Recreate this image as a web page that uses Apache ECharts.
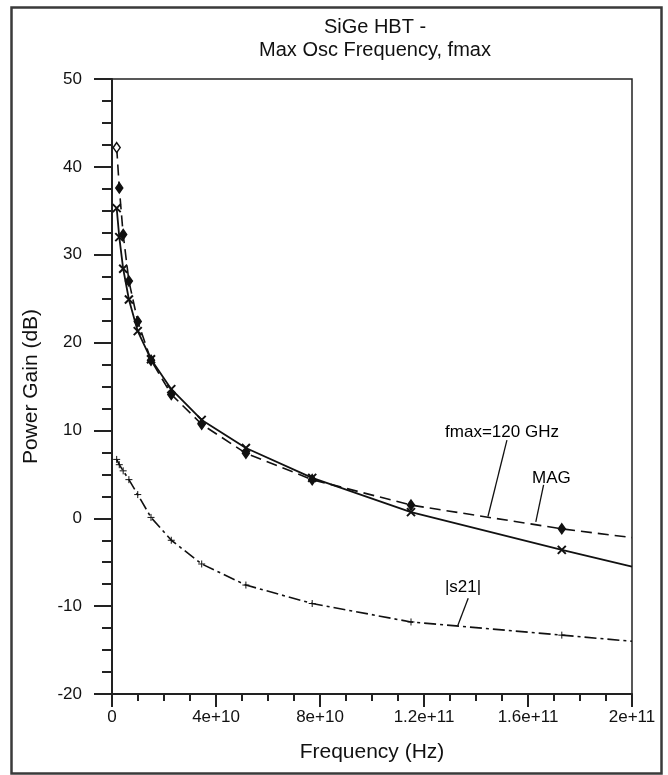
<!DOCTYPE html>
<html>
<head>
<meta charset="utf-8">
<script src="https://cdn.jsdelivr.net/npm/echarts@6/dist/echarts.min.js"></script>
<style>
html,body{margin:0;padding:0;background:#fff;}
#chart{width:668px;height:775px;}
</style>
</head>
<body>
<div id="chart"></div>
<script>
// Data
const freqHz = [1.8e9, 2.8e9, 4.3e9, 6.5e9, 9.9e9, 1.5e10, 2.28e10, 3.45e10, 5.15e10, 7.7e10, 1.15e11, 1.73e11, 2e11];
const magDb  = [42.2, 37.6, 32.3, 27.0, 22.4, 18.0, 14.1, 10.7, 7.4, 4.4, 1.5, -1.2, -2.2];
const gainDb = [35.3, 32.0, 28.4, 24.9, 21.3, 18.1, 14.7, 11.2, 8.0, 4.6, 0.7, -3.6, -5.5];
const s21Db  = [6.7, 6.1, 5.4, 4.4, 2.7, 0.1, -2.5, -5.2, -7.6, -9.7, -11.8, -13.3, -14.0];
const xTicks = [0, 4e10, 8e10, 1.2e11, 1.6e11, 2e11];
const yTicks = [-20, -10, 0, 10, 20, 30, 40, 50];

// Annotation anchors (data coordinates)
const annoTexts = [
  {name: 'fmax=120 GHz', at: [1.5e11, 9.8]},
  {name: 'MAG', at: [1.69e11, 4.6]},
  {name: '|s21|', at: [1.35e11, -7.9]}
];
const annoLeaders = [
  [[1.519e11, 8.9], [1.446e11, 0.2]],
  [[1.66e11, 3.8], [1.63e11, -0.4]],
  [[1.37e11, -9.1], [1.33e11, -12.2]]
];

const FONT = '"Liberation Sans", Arial, Helvetica, sans-serif';
const chart = echarts.init(document.getElementById('chart'), null, {renderer: 'canvas'});

function pairs(ys) {
  return freqHz.map((f, i) => {
    const item = {value: [f, ys[i]]};
    if (i === freqHz.length - 1) item.symbol = 'none';
    return item;
  });
}
const magData = pairs(magDb);
magData[0].itemStyle = {color: '#fff'};
const gainData = pairs(gainDb);
const s21Data = pairs(s21Db);

const xFmt = v => (v === 0 ? '0' : Number(v).toExponential().replace(/\.?0+e/, 'e'));

chart.setOption({
  animation: false,
  backgroundColor: '#fff',
  title: {
    text: 'SiGe HBT -\nMax Osc Frequency, fmax',
    left: 370, top: 11, textAlign: 'center',
    textStyle: {fontFamily: FONT, fontSize: 20, fontWeight: 'normal', color: '#111', lineHeight: 23}
  },
  graphic: [{
    type: 'rect', left: 9, top: 5, silent: true, z: -1,
    shape: {width: 650, height: 766},
    style: {fill: 'none', stroke: '#3a3a3a', lineWidth: 2.5}
  }],
  grid: {left: 112, right: 36, top: 79, bottom: 81, show: true, borderColor: '#222', borderWidth: 1.5, backgroundColor: 'transparent'},
  xAxis: {
    type: 'value', min: 0, max: 2e11, interval: 4e10,
    name: 'Frequency (Hz)', nameLocation: 'middle', nameGap: 48,
    nameTextStyle: {fontFamily: FONT, fontSize: 21, color: '#111'},
    axisLine: {show: true, onZero: false, lineStyle: {color: '#222', width: 2}},
    axisTick: {show: true, length: 13, inside: false, lineStyle: {color: '#222', width: 2}},
    minorTick: {show: true, splitNumber: 4, length: 7, lineStyle: {color: '#222', width: 2}},
    splitLine: {show: false},
    axisLabel: {fontFamily: FONT, fontSize: 17, color: '#111', margin: 15, formatter: xFmt,
      customValues: xTicks}
  },
  yAxis: {
    type: 'value', min: -20, max: 50, interval: 10,
    name: 'Power Gain (dB)', nameLocation: 'middle', nameGap: 70, nameRotate: 90,
    nameTextStyle: {fontFamily: FONT, fontSize: 21, color: '#111'},
    axisLine: {show: true, onZero: false, lineStyle: {color: '#222', width: 2}},
    axisTick: {show: true, length: 18, inside: false, lineStyle: {color: '#222', width: 2}},
    minorTick: {show: true, splitNumber: 4, length: 10, lineStyle: {color: '#222', width: 2}},
    splitLine: {show: false},
    axisLabel: {fontFamily: FONT, fontSize: 17, color: '#111', margin: 30, customValues: yTicks}
  },
  series: [
    {
      name: 'MAG', type: 'line', data: magData, smooth: false,
      symbol: 'diamond', symbolSize: [7, 10],
      lineStyle: {color: '#111', width: 1.6, type: [11, 6]},
      itemStyle: {color: '#111', borderColor: '#111', borderWidth: 1.5},
      z: 3
    },
    {
      name: 'Gain', type: 'line', data: gainData, smooth: false,
      symbol: 'path://M0,0L10,10M10,0L0,10', symbolSize: 8,
      lineStyle: {color: '#111', width: 1.8},
      itemStyle: {color: '#111', borderColor: '#111', borderWidth: 2},
      z: 4,
      markLine: {
        silent: true, symbol: 'none', animation: false,
        lineStyle: {color: '#111', width: 1.3, type: 'solid'},
        label: {show: false},
        data: annoLeaders.map(l => [{coord: l[0]}, {coord: l[1]}])
      }
    },
    {
      name: 's21', type: 'line', data: s21Data, smooth: false,
      symbol: 'path://M5,0L5,10M0,5L10,5', symbolSize: 7,
      lineStyle: {color: '#111', width: 1.6, type: [12, 4, 3, 4]},
      itemStyle: {color: '#111', borderColor: '#111', borderWidth: 1},
      z: 3
    },
    {
      name: 'labels', type: 'scatter', symbolSize: 0, silent: true,
      data: annoTexts.map(a => ({name: a.name, value: a.at})),
      label: {show: true, position: 'inside', formatter: p => p.name,
        fontFamily: FONT, fontSize: 17, color: '#000', opacity: 1},
      itemStyle: {opacity: 1},
      z: 5
    }
  ]
});
</script>
</body>
</html>
